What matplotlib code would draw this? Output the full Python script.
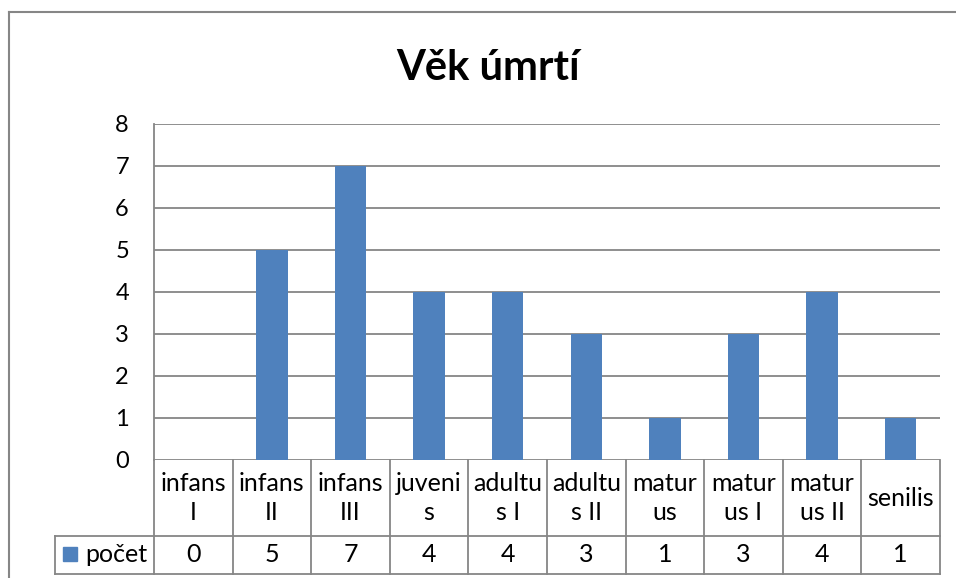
import matplotlib.pyplot as plt
from matplotlib.lines import Line2D
from matplotlib.patches import Rectangle

# data
categories = ['infans\nI', 'infans\nII', 'infans\nIII', 'juveni\ns', 'adultu\ns I',
              'adultu\ns II', 'matur\nus', 'matur\nus I', 'matur\nus II', 'senilis']
pocet = [0, 5, 7, 4, 4, 3, 1, 3, 4, 1]
series_name = 'počet'
title = 'Věk úmrtí'

plt.rcParams['font.family'] = ['Lato', 'DejaVu Sans']
W, H = 956, 578
blue = '#4F81BD'
gray = '#868686'

fig = plt.figure(figsize=(W / 100, H / 100), dpi=100)

def fx(px):
    return px / W

def fy(py):
    return 1 - py / H

# plot area
x0, x1, ytop, ybot = 154, 940, 124, 460
ax = fig.add_axes([fx(x0), fy(ybot), fx(x1 - x0), (ybot - ytop) / H])
n = len(categories)
ax.bar(range(n), pocet, width=0.4, color=blue, zorder=3)
ax.set_xlim(-0.5, n - 0.5)
ax.set_ylim(0, 8)
ax.set_yticks(range(0, 9))
ax.set_xticks([])
ax.grid(axis='y', color=gray, linewidth=1.3, zorder=0)
for s in ['top', 'right', 'bottom']:
    ax.spines[s].set_visible(False)
ax.spines['left'].set_color(gray)
ax.spines['left'].set_linewidth(1.3)
ax.tick_params(axis='y', length=0, pad=18, labelsize=17)

# data table below the plot
cw = (x1 - x0) / n
row1, row2, tb = 460, 536, 574
lines = []
lines.append(((55, row2), (x1, row2)))
lines.append(((55, tb), (x1, tb)))
lines.append(((55, row2), (55, tb)))
for i in range(n + 1):
    xx = x0 + i * cw
    lines.append(((xx, row1), (xx, tb)))
for (a, b) in lines:
    fig.add_artist(Line2D([fx(a[0]), fx(b[0])], [fy(a[1]), fy(b[1])],
                          color=gray, linewidth=1.3, transform=fig.transFigure))

for i, (c, v) in enumerate(zip(categories, pocet)):
    cx = x0 + (i + 0.5) * cw
    fig.text(fx(cx), fy((row1 + row2) / 2), c, ha='center', va='center',
             fontsize=18, linespacing=1.3)
    fig.text(fx(cx), fy((row2 + tb) / 2), str(v), ha='center', va='center',
             fontsize=18)

fig.add_artist(Rectangle((fx(63), fy(561)), fx(14), 14 / H, color=blue,
                         transform=fig.transFigure))
fig.text(fx(85), fy((row2 + tb) / 2), series_name, ha='left', va='center',
         fontsize=18)

# title
fig.text(fx(488), fy(68), title, ha='center', va='center', fontsize=30,
         fontweight='bold')

# outer frame (chart is cropped on right/bottom)
fig.add_artist(Line2D([fx(9), fx(956)], [fy(12), fy(12)], color=gray,
                      linewidth=1.5, transform=fig.transFigure))
fig.add_artist(Line2D([fx(9), fx(9)], [fy(12), fy(578)], color=gray,
                      linewidth=1.5, transform=fig.transFigure))

fig.savefig('out.png', dpi=100)
